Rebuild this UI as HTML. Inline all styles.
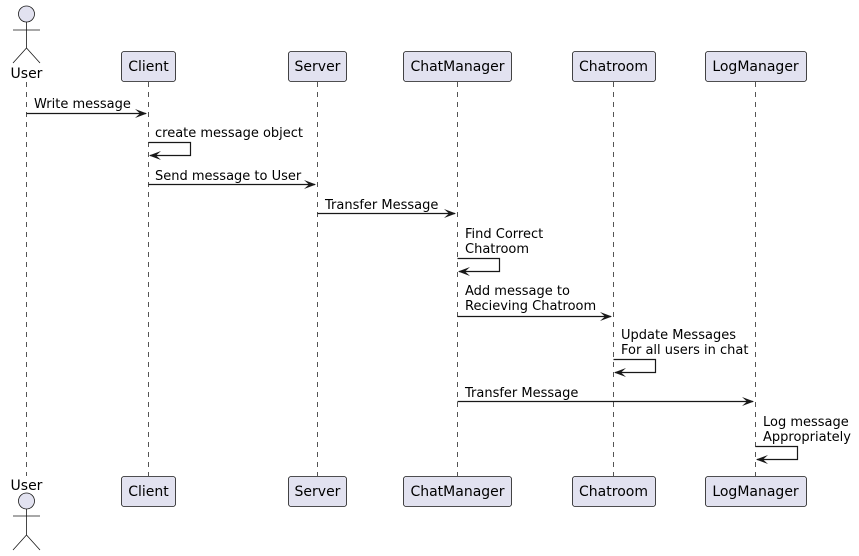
<!DOCTYPE html>
<html><head><meta charset="utf-8"><style>
html,body{margin:0;padding:0;background:#fff;}
svg{display:block;}
text{font-family:"DejaVu Sans","Liberation Sans",sans-serif;font-size:13px;fill:#000;}
text.p{font-size:14px;}
.ll{stroke:#555;stroke-width:1;stroke-dasharray:5,5;}
.box{fill:#E2E2F0;stroke:#181818;stroke-width:0.8;}
.m{stroke:#181818;stroke-width:1.2;fill:none;}
.ah{fill:#181818;}
.act{stroke:#181818;stroke-width:0.8;fill:none;}
</style></head><body>
<svg width="859" height="556" viewBox="0 0 859 556" xmlns="http://www.w3.org/2000/svg">
<line class="ll" x1="26.5" y1="82" x2="26.5" y2="476"/>
<line class="ll" x1="148.5" y1="82" x2="148.5" y2="476"/>
<line class="ll" x1="317.5" y1="82" x2="317.5" y2="476"/>
<line class="ll" x1="457.5" y1="82" x2="457.5" y2="476"/>
<line class="ll" x1="613.5" y1="82" x2="613.5" y2="476"/>
<line class="ll" x1="755.5" y1="82" x2="755.5" y2="476"/>

<circle cx="26.5" cy="14" r="8" fill="#E2E2F0" stroke="#181818" stroke-width="0.8"/>
<path class="act" d="M26.5 22 V48 M13 30 H40 M26.5 48 L13 63 M26.5 48 L40 63"/>
<text class="p" x="26.5" y="78" text-anchor="middle">User</text>
<text class="p" x="26.5" y="490" text-anchor="middle">User</text>
<circle cx="26.5" cy="501" r="8" fill="#E2E2F0" stroke="#181818" stroke-width="0.8"/>
<path class="act" d="M26.5 509 V535 M13 516 H40 M26.5 535 L13 550 M26.5 535 L40 550"/>

<rect class="box" x="121.5" y="51.5" width="54" height="30" rx="2.5"/><text class="p" x="148.5" y="71" text-anchor="middle">Client</text>
<rect class="box" x="288.5" y="51.5" width="58" height="30" rx="2.5"/><text class="p" x="317.5" y="71" text-anchor="middle">Server</text>
<rect class="box" x="403.5" y="51.5" width="108" height="30" rx="2.5"/><text class="p" x="457.5" y="71" text-anchor="middle">ChatManager</text>
<rect class="box" x="572.5" y="51.5" width="83" height="30" rx="2.5"/><text class="p" x="613.5" y="71" text-anchor="middle">Chatroom</text>
<rect class="box" x="705.5" y="51.5" width="101" height="30" rx="2.5"/><text class="p" x="755.5" y="71" text-anchor="middle">LogManager</text>
<rect class="box" x="121.5" y="476.5" width="54" height="30" rx="2.5"/><text class="p" x="148.5" y="496" text-anchor="middle">Client</text>
<rect class="box" x="288.5" y="476.5" width="58" height="30" rx="2.5"/><text class="p" x="317.5" y="496" text-anchor="middle">Server</text>
<rect class="box" x="403.5" y="476.5" width="108" height="30" rx="2.5"/><text class="p" x="457.5" y="496" text-anchor="middle">ChatManager</text>
<rect class="box" x="572.5" y="476.5" width="83" height="30" rx="2.5"/><text class="p" x="613.5" y="496" text-anchor="middle">Chatroom</text>
<rect class="box" x="705.5" y="476.5" width="101" height="30" rx="2.5"/><text class="p" x="755.5" y="496" text-anchor="middle">LogManager</text>

<line class="m" x1="26.5" y1="113.5" x2="146" y2="113.5"/>
<polygon class="ah" points="135,109 147,113.5 135,118 140,113.5"/>
<text x="34" y="108">Write message</text>
<text x="155" y="137">create message object</text>
<path class="m" d="M148.5 142.5 H190.5 V155.5 H150"/>
<polygon class="ah" points="161,151 149,155.5 161,160 156,155.5"/>
<line class="m" x1="148.5" y1="184.5" x2="315" y2="184.5"/>
<polygon class="ah" points="304,180 316,184.5 304,189 309,184.5"/>
<text x="155" y="180">Send message to User</text>
<line class="m" x1="317.5" y1="213.5" x2="455" y2="213.5"/>
<polygon class="ah" points="444,209 456,213.5 444,218 449,213.5"/>
<text x="325" y="209">Transfer Message</text>
<text x="465" y="238">Find Correct</text>
<text x="465" y="253">Chatroom</text>
<path class="m" d="M457.5 258.5 H499.5 V271.5 H459"/>
<polygon class="ah" points="470,267 458,271.5 470,276 465,271.5"/>
<text x="465" y="295">Add message to</text>
<text x="465" y="310">Recieving Chatroom</text>
<line class="m" x1="457.5" y1="316.5" x2="611" y2="316.5"/>
<polygon class="ah" points="600,312 612,316.5 600,321 605,316.5"/>
<text x="621" y="339">Update Messages</text>
<text x="621" y="354">For all users in chat</text>
<path class="m" d="M613.5 359.5 H655.5 V372.5 H615"/>
<polygon class="ah" points="626,368 614,372.5 626,377 621,372.5"/>
<line class="m" x1="457.5" y1="401.5" x2="753" y2="401.5"/>
<polygon class="ah" points="742,397 754,401.5 742,406 747,401.5"/>
<text x="465" y="397">Transfer Message</text>
<text x="763" y="426">Log message</text>
<text x="763" y="441">Appropriately</text>
<path class="m" d="M755.5 446.5 H797.5 V459.5 H757"/>
<polygon class="ah" points="768,455 756,459.5 768,464 763,459.5"/>
</svg>
</body></html>
